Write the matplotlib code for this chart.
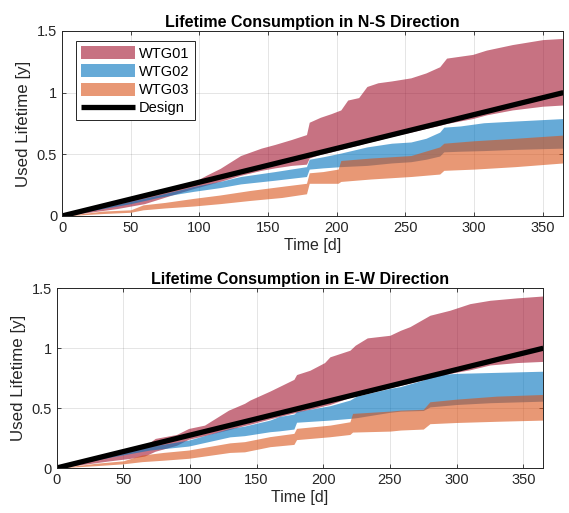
import matplotlib
matplotlib.use("Agg")
import matplotlib.pyplot as plt
from matplotlib.ticker import FixedLocator

plt.rcParams['font.family'] = ['Liberation Sans', 'DejaVu Sans']

# ---------------- data: N-S direction ----------------
ns_t1 = [0, 20, 40, 60, 80, 95, 105, 115, 130, 145, 155, 167, 178, 180, 188, 196, 203, 208, 216,
         222, 230, 240, 254, 265, 275, 280, 299, 309, 328, 350, 365]
ns_hi1 = [0, .055, .11, .165, .22, .27, .33, .385, .49, .55, .58, .62, .66, .76, .80, .83, .86, .94, .96,
          1.05, 1.08, 1.095, 1.12, 1.16, 1.21, 1.28, 1.31, 1.345, 1.39, 1.43, 1.44]
ns_lo1 = [0, .03, .06, .10, .17, .22, .25, .28, .33, .37, .39, .41, .42, .47, .50, .52, .54, .555, .575,
          .595, .615, .645, .68, .71, .735, .75, .79, .82, .86, .89, .90]

ns_t2 = [0, 30, 50, 70, 85, 96, 115, 130, 155, 178, 180, 190, 203, 222, 240, 254, 265, 275, 278, 290,
         307, 330, 365]
ns_hi2 = [0, .07, .12, .17, .21, .24, .28, .32, .36, .40, .46, .48, .51, .56, .59, .60, .63, .68, .72, .73,
          .756, .77, .79]
ns_lo2 = [0, .06, .10, .15, .18, .20, .23, .26, .29, .32, .38, .39, .40, .41, .43, .44, .46, .486, .52, .525,
          .53, .54, .55]

ns_t3 = [0, 15, 30, 50, 59, 75, 96, 115, 137, 160, 178, 180, 190, 201, 203, 225, 254, 275, 278, 300,
         330, 365]
ns_hi3 = [0, .02, .04, .05, .09, .11, .143, .17, .207, .24, .265, .35, .36, .38, .45, .47, .49, .56, .59,
          .61, .63, .656]
ns_lo3 = [0, .01, .02, .03, .05, .065, .081, .10, .126, .15, .18, .265, .265, .265, .28, .30, .32, .34, .37,
          .38, .40, .43]

# ---------------- data: E-W direction ----------------
ew_t1 = [0, 20, 40, 55, 66, 74, 90, 99, 111, 129, 141, 145, 160, 178, 180, 190, 201, 205, 220, 224,
         233, 250, 258, 265, 280, 295, 310, 325, 345, 365]
ew_hi1 = [0, .055, .11, .15, .18, .247, .28, .33, .358, .483, .54, .567, .642, .74, .78, .816, .88, .928,
          .983, 1.025, 1.086, 1.108, 1.15, 1.18, 1.275, 1.317, 1.372, 1.40, 1.42, 1.436]
ew_lo1 = [0, .03, .06, .08, .10, .14, .19, .24, .27, .32, .355, .365, .41, .46, .465, .49, .52, .53,
          .59, .60, .625, .67, .69, .71, .75, .79, .82, .86, .88, .89]

ew_t2 = [0, 40, 70, 99, 130, 141, 160, 167, 178, 180, 205, 220, 225, 250, 258, 275, 280, 300, 325, 365]
ew_hi2 = [0, .10, .18, .233, .33, .35, .40, .43, .45, .47, .52, .567, .60, .665, .68, .735, .775, .79,
          .797, .808]
ew_lo2 = [0, .09, .15, .183, .26, .27, .303, .31, .325, .382, .40, .414, .42, .465, .475, .48, .51, .53,
          .545, .558]

ew_t3 = [0, 15, 30, 50, 64, 80, 99, 130, 141, 160, 178, 180, 205, 220, 222, 250, 258, 275, 280, 300,
         330, 365]
ew_hi3 = [0, .02, .04, .06, .108, .13, .15, .21, .22, .262, .289, .331, .358, .386, .456, .475, .483, .49,
          .553, .575, .60, .614]
ew_lo3 = [0, .01, .02, .035, .053, .065, .081, .13, .135, .178, .197, .237, .261, .28, .30, .308, .317,
          .325, .37, .38, .39, .40]

design_t = [0, 365]
design_v = [0, 1]

labels = ['WTG01', 'WTG02', 'WTG03', 'Design']
colors = [(0.635, 0.078, 0.184), (0.0, 0.447, 0.741), (0.85, 0.325, 0.098)]
xticks = [0, 50, 100, 150, 200, 250, 300, 350]
yticks = [0, 0.5, 1, 1.5]
yticklabels = ['0', '0.5', '1', '1.5']

fig = plt.figure(figsize=(5.69, 5.13), dpi=100)
ax1 = fig.add_axes([0.109, 0.579, 0.881, 0.3606])
ax2 = fig.add_axes([0.0993, 0.0877, 0.8555, 0.3503])

tc = '#262626'

def draw(ax, bands, title, legend=False):
    handles = []
    for (t, lo, hi), c, lab in zip(bands, colors, labels):
        h = ax.fill_between(t, lo, hi, color=c, alpha=0.6, linewidth=0, label=lab)
        handles.append(h)
    ln, = ax.plot(design_t, design_v, color='black', lw=3.8, label='Design', solid_capstyle='butt')
    handles.append(ln)
    ax.set_xlim(0, 365)
    ax.set_ylim(0, 1.5)
    ax.xaxis.set_major_locator(FixedLocator(xticks))
    ax.set_yticks(yticks)
    ax.set_yticklabels(yticklabels)
    ax.grid(True, color='#000000', alpha=0.12, linewidth=0.6)
    ax.set_axisbelow(True)
    ax.tick_params(direction='in', length=3, width=0.6, colors=tc, labelsize=10.5,
                   top=True, right=True, labeltop=False, labelright=False)
    for s in ax.spines.values():
        s.set_color(tc)
        s.set_linewidth(0.7)
    ax.set_xlabel('Time [d]', fontsize=11.5, color=tc, labelpad=2)
    ax.set_ylabel('Used Lifetime [y]', fontsize=12.2, color=tc, labelpad=4)
    ax.set_title(title, fontsize=11.5, fontweight='bold', color='black', pad=3)
    if legend:
        leg = ax.legend(handles=handles, loc='upper left', bbox_to_anchor=(0.027, 0.945),
                        borderaxespad=0, fancybox=False, framealpha=1, edgecolor=tc,
                        fontsize=10.5, handlelength=3.7, handleheight=1.0, handletextpad=0.3,
                        labelspacing=0.25, borderpad=0.35)
        leg.get_frame().set_linewidth(0.7)

draw(ax1, [(ns_t1, ns_lo1, ns_hi1), (ns_t2, ns_lo2, ns_hi2), (ns_t3, ns_lo3, ns_hi3)],
     'Lifetime Consumption in N-S Direction', legend=True)
draw(ax2, [(ew_t1, ew_lo1, ew_hi1), (ew_t2, ew_lo2, ew_hi2), (ew_t3, ew_lo3, ew_hi3)],
     'Lifetime Consumption in E-W Direction')

fig.savefig('out.png', dpi=100)
